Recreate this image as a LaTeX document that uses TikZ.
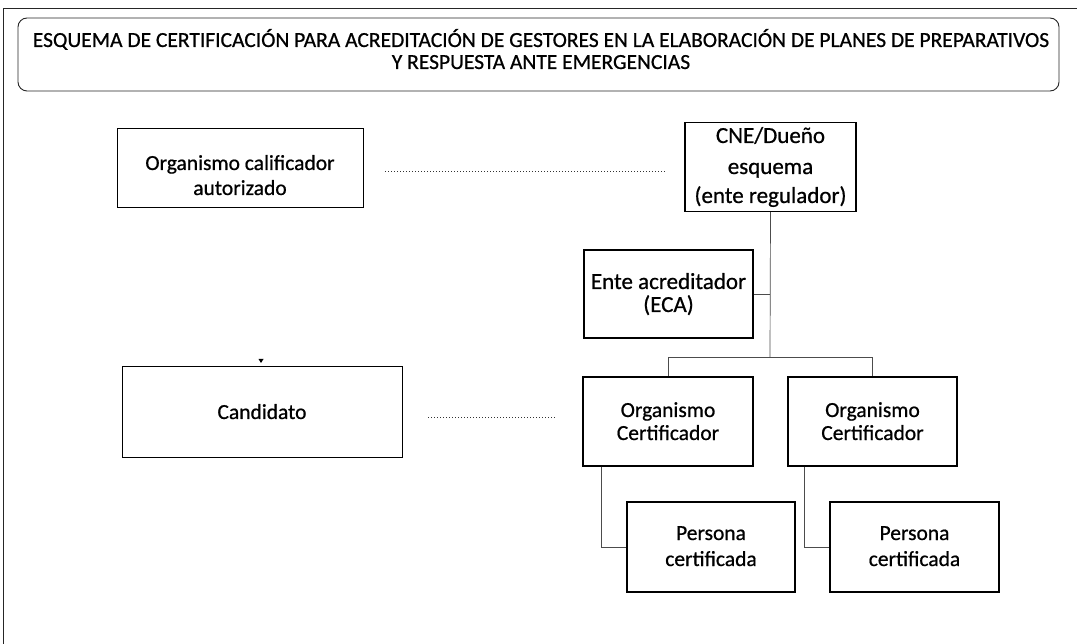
\documentclass[tikz,border=0pt]{standalone}
\usepackage{fontspec}
\setmainfont{Carlito}[FakeBold=0.7]
\begin{document}
\begin{tikzpicture}[x=1pt,y=-1pt,
  box/.style={draw=black,line width=1.4pt,fill=white,inner sep=0pt},
  thinbox/.style={box,line width=0.8pt},
  lbl/.style={anchor=base,inner sep=0pt,font=\fontsize{21.5}{24}\selectfont},
  biglbl/.style={lbl,font=\fontsize{23}{26}\selectfont},
  ttl/.style={anchor=base,inner sep=0pt,font=\fontsize{21.5}{24}\selectfont},
  frame/.style={line width=0.8pt,draw=black!85},
  link/.style={line width=0.7pt,draw=black!70},
  dotline/.style={line width=1pt,dotted,draw=black!80}]
\useasboundingbox (0,0) rectangle (1077,644);
\draw[frame] (3,644) -- (3,8) -- (1077,8);
% title
\node[draw=black!85,line width=0.9pt,rounded corners=9pt,minimum width=1041pt,minimum height=73pt,inner sep=0pt] (title) at (538.5,54.5) {};
\node[ttl] (title1) at (541,47) {ESQUEMA DE CERTIFICACIÓN PARA ACREDITACIÓN DE GESTORES EN LA ELABORACIÓN DE PLANES DE PREPARATIVOS};
\node[ttl] (title2) at (541,69) {Y RESPUESTA ANTE EMERGENCIAS};
% boxes
\node[thinbox,minimum width=246pt,minimum height=79pt] (ocal) at (240,167.5) {};
\node[lbl] (ocal1) at (240,170) {Organismo calificador};
\node[lbl] (ocal2) at (240,195) {autorizado};
\node[box,minimum width=171pt,minimum height=89pt] (cne) at (770.5,167) {};
\node[biglbl] (cne1) at (770.5,143) {CNE/Dueño};
\node[biglbl] (cne2) at (770.5,174) {esquema};
\node[biglbl] (cne3) at (770.5,203) {(ente regulador)};
\node[box,minimum width=169pt,minimum height=88pt] (eca) at (668.5,294) {};
\node[biglbl] (eca1) at (668.5,289) {Ente acreditador};
\node[biglbl] (eca2) at (668.5,312) {(ECA)};
\node[thinbox,minimum width=280pt,minimum height=91pt] (cand) at (262,411.5) {};
\node[lbl] (cand1) at (262,419) {Candidato};
\node[box,minimum width=170pt,minimum height=89pt] (oc1) at (668,421.5) {};
\node[lbl] (oc1a) at (668,417) {Organismo};
\node[lbl] (oc1b) at (668,440) {Certificador};
\node[box,minimum width=169pt,minimum height=89pt] (oc2) at (872.5,421.5) {};
\node[lbl] (oc2a) at (872.5,417) {Organismo};
\node[lbl] (oc2b) at (872.5,440) {Certificador};
\node[box,minimum width=168pt,minimum height=90pt] (p1) at (711,547) {};
\node[lbl] (p1a) at (711,540) {Persona};
\node[lbl] (p1b) at (711,566) {certificada};
\node[box,minimum width=169pt,minimum height=90pt] (p2) at (914.5,547) {};
\node[lbl] (p2a) at (914.5,540) {Persona};
\node[lbl] (p2b) at (914.5,566) {certificada};
% connectors
\coordinate (br) at (770,357);
\draw[dotline,shorten <=22pt,shorten >=17pt] ([yshift=-4.5pt]ocal.east) -- ([yshift=-5pt]cne.west);
\draw[dotline,shorten <=26pt,shorten >=25pt] ([yshift=-6.5pt]cand.east) -- ([yshift=3.5pt]oc1.west);
\draw[link] (cne.south) -- (br);
\draw[link] (eca.east) -- (eca.east -| br);
\draw[link] (br) -| (oc1.north);
\draw[link] (br) -| (oc2.north);
\draw[link] ([xshift=19pt]oc1.south west) |- (p1.west);
\draw[link] ([xshift=17pt]oc2.south west) |- (p2.west);
\fill[black] (258.5,359) -- (263.5,359) -- (261,363) -- cycle;
\end{tikzpicture}
\end{document}
